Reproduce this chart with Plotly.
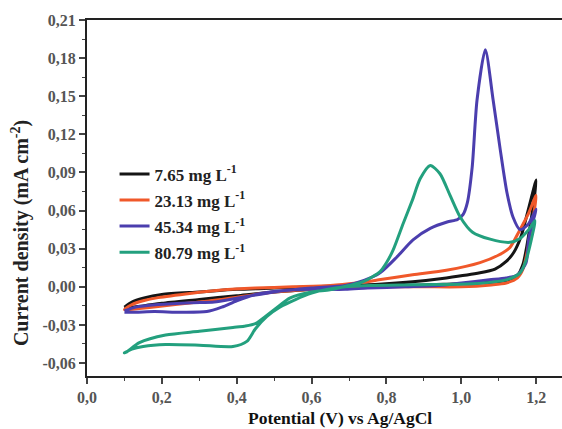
import plotly.graph_objects as go

# ---- data ----
labels = ["7.65 mg L<sup>-1</sup>", "23.13 mg L<sup>-1</sup>",
          "45.34 mg L<sup>-1</sup>", "80.79 mg L<sup>-1</sup>"]
colors = ["#151515", "#F0582A", "#4B3EAE", "#23A07E"]

black_x = [0.10, 0.12, 0.15, 0.20, 0.30, 0.40, 0.50, 0.60, 0.70, 0.78, 0.87, 0.96, 1.05, 1.09, 1.12, 1.14, 1.16, 1.18, 1.20,
           1.195, 1.185, 1.175, 1.165, 1.15, 1.12, 1.05, 0.95, 0.85, 0.75, 0.65, 0.60, 0.50, 0.40, 0.30, 0.20, 0.15, 0.12, 0.10]
black_y = [-0.016, -0.012, -0.009, -0.006, -0.004, -0.002, -0.001, 0.000, 0.001, 0.002, 0.004, 0.007, 0.011, 0.014, 0.020, 0.027, 0.040, 0.062, 0.084,
           0.070, 0.050, 0.032, 0.018, 0.009, 0.005, 0.003, 0.002, 0.001, 0.000, -0.001, -0.002, -0.004, -0.007, -0.010, -0.013, -0.015, -0.016, -0.017]

red_x = [0.10, 0.12, 0.15, 0.19, 0.28, 0.36, 0.45, 0.55, 0.65, 0.72, 0.78, 0.87, 0.96, 1.05, 1.10, 1.13, 1.155, 1.18, 1.20,
         1.195, 1.185, 1.175, 1.165, 1.15, 1.12, 1.08, 1.00, 0.90, 0.80, 0.70, 0.60, 0.50, 0.45, 0.36, 0.28, 0.19, 0.14, 0.10]
red_y = [-0.018, -0.014, -0.011, -0.0085, -0.005, -0.0025, -0.001, 0.000, 0.001, 0.003, 0.0055, 0.0095, 0.013, 0.019, 0.025, 0.031, 0.044, 0.058, 0.072,
         0.060, 0.042, 0.026, 0.014, 0.007, 0.003, 0.0015, 0.000, 0.000, 0.000, 0.000, -0.002, -0.004, -0.006, -0.010, -0.0125, -0.0155, -0.017, -0.018]

blue_x = [0.10, 0.13, 0.19, 0.28, 0.34, 0.40, 0.50, 0.60, 0.69, 0.74, 0.783, 0.828, 0.871, 0.917, 0.962, 0.99, 1.005, 1.016, 1.029, 1.042, 1.064, 1.085, 1.104, 1.122, 1.138, 1.157, 1.178, 1.20,
          1.19, 1.18, 1.173, 1.15, 1.12, 1.075, 1.00, 0.94, 0.85, 0.75, 0.69, 0.60, 0.52, 0.45, 0.40, 0.36, 0.32, 0.25, 0.18, 0.13, 0.10]
blue_y = [-0.019, -0.016, -0.014, -0.0125, -0.012, -0.009, -0.004, -0.001, 0.001, 0.005, 0.011, 0.0235, 0.037, 0.046, 0.051, 0.053, 0.057, 0.066, 0.094, 0.147, 0.1865, 0.147, 0.108, 0.074, 0.055, 0.045, 0.049, 0.061,
          0.050, 0.038, 0.019, 0.0094, 0.007, 0.0055, 0.003, 0.001, 0.000, -0.001, -0.002, -0.002, -0.003, -0.006, -0.011, -0.016, -0.0195, -0.020, -0.0195, -0.020, -0.020]

green_x = [0.10, 0.107, 0.14, 0.21, 0.30, 0.39, 0.42, 0.45, 0.50, 0.543, 0.60, 0.649, 0.70, 0.738, 0.783, 0.80, 0.818, 0.845, 0.869, 0.89, 0.917, 0.943, 0.97, 0.997, 1.03, 1.077, 1.13, 1.157, 1.18, 1.197,
           1.19, 1.173, 1.157, 1.12, 1.03, 0.87, 0.69, 0.60, 0.515, 0.48, 0.45, 0.427, 0.39, 0.30, 0.21, 0.15, 0.12, 0.10]
green_y = [-0.052, -0.051, -0.044, -0.038, -0.035, -0.032, -0.031, -0.029, -0.018, -0.0087, -0.004, -0.0024, 0.001, 0.004, 0.012, 0.019, 0.029, 0.050, 0.068, 0.085, 0.0955, 0.089, 0.072, 0.055, 0.043, 0.0375, 0.035, 0.038, 0.045, 0.052,
           0.041, 0.021, 0.011, 0.0055, 0.0024, 0.0016, 0.000, -0.005, -0.016, -0.0235, -0.033, -0.043, -0.047, -0.046, -0.0455, -0.047, -0.049, -0.052]

xs = [black_x, red_x, blue_x, green_x]
ys = [black_y, red_y, blue_y, green_y]

y_tickvals = [0.21, 0.18, 0.15, 0.12, 0.09, 0.06, 0.03, 0.00, -0.03, -0.06]
y_ticktext = ["0,21", "0,18", "0,15", "0,12", "0,09", "0,06", "0,03", "0,00", "-0,03", "-0,06"]
x_tickvals = [0.0, 0.2, 0.4, 0.6, 0.8, 1.0, 1.2]
x_ticktext = ["0,0", "0,2", "0,4", "0,6", "0,8", "1,0", "1,2"]

FONT = "Liberation Serif"

fig = go.Figure()
for i in range(4):
    fig.add_trace(go.Scatter(
        x=xs[i], y=ys[i], mode="lines", name=labels[i], legendgroup=str(i),
        line=dict(color=colors[i], width=3, shape="spline", smoothing=0.7),
    ))

fig.update_layout(
    width=562, height=429,
    margin=dict(l=87, r=0, t=20, b=53),
    paper_bgcolor="white", plot_bgcolor="white",
    font=dict(family=FONT, size=16, color="#222"),
    showlegend=True,
    legend=dict(x=0.058, y=0.617, xanchor="left", yanchor="top",
                bgcolor="rgba(0,0,0,0)", tracegroupgap=1,
                font=dict(family=FONT, size=17, color="#222", weight="bold")),
    xaxis=dict(range=[0, 1.269], showgrid=False, zeroline=False,
               showline=True, linecolor="#222", linewidth=2, mirror=True,
               ticks="outside", ticklen=6, tickwidth=1.5, tickcolor="#444",
               tickvals=x_tickvals, ticktext=x_ticktext,
               tickfont=dict(family=FONT, size=16, color="#555", weight="bold"),
               minor=dict(ticks="outside", ticklen=3, tickwidth=1.2, tickcolor="#444", dtick=0.1, tick0=0)),
    yaxis=dict(range=[-0.0702, 0.21], showgrid=False, zeroline=False,
               showline=True, linecolor="#222", linewidth=2, mirror=False,
               ticks="outside", ticklen=6, tickwidth=1.5, tickcolor="#444",
               tickvals=y_tickvals, ticktext=y_ticktext,
               tickfont=dict(family=FONT, size=16, color="#555", weight="bold"),
               minor=dict(ticks="outside", ticklen=3, tickwidth=1.2, tickcolor="#444", dtick=0.015, tick0=0)),
)

fig.add_annotation(text="Potential (V) vs Ag/AgCl", xref="paper", yref="paper",
                   x=0.533, y=-0.118, xanchor="center", yanchor="middle", showarrow=False,
                   font=dict(family=FONT, size=17.5, color="#111", weight="bold"))
fig.add_annotation(text="Current density (mA cm<sup>-2</sup>)", xref="paper", yref="paper",
                   x=-0.14, y=0.40, xanchor="center", yanchor="middle", showarrow=False,
                   textangle=-90,
                   font=dict(family=FONT, size=20, color="#222", weight="bold"))

fig.write_html("out.html")
